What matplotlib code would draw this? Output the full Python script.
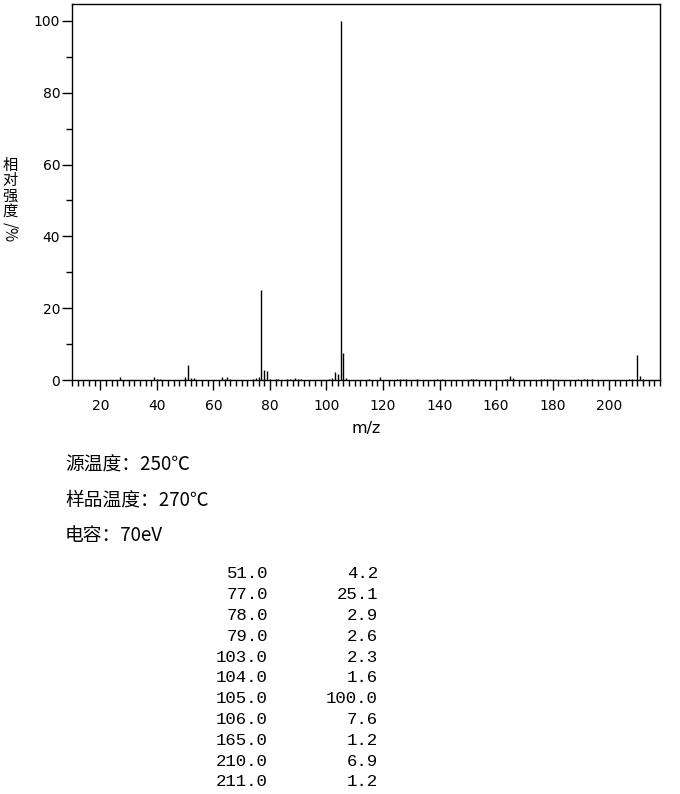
import matplotlib
matplotlib.use("Agg")
import matplotlib.pyplot as plt
from matplotlib.ticker import MultipleLocator

# ---- data ----
mz = [27, 39, 40, 41, 50, 51, 52, 53, 63, 64, 65, 66, 74, 75, 76, 77, 78, 79,
      80, 82, 83, 86, 87, 89, 90, 91, 101, 102, 103, 104, 105, 106, 107, 115,
      119, 125, 126, 127, 128, 132, 139, 141, 151, 152, 153, 163, 164, 165, 166,
      176, 177, 178, 179, 181, 189, 191, 192, 194, 207, 208, 210, 211, 212]
intensity = [0.8, 0.8, 0.3, 0.4, 0.8, 4.2, 0.6, 0.6, 0.8, 0.4, 0.8, 0.3, 0.3, 0.6, 0.8, 25.1, 2.9, 2.6,
             0.3, 0.3, 0.3, 0.3, 0.3, 0.5, 0.3, 0.4, 0.3, 0.5, 2.3, 1.6, 100.0, 7.6, 0.5, 0.3,
             0.8, 0.3, 0.3, 0.3, 0.3, 0.3, 0.3, 0.3, 0.3, 0.3, 0.3, 0.3, 0.4, 1.2, 0.6,
             0.3, 0.3, 0.3, 0.3, 0.3, 0.3, 0.3, 0.3, 0.3, 0.3, 0.3, 6.9, 1.2, 0.3]

table_mz = [51.0, 77.0, 78.0, 79.0, 103.0, 104.0, 105.0, 106.0, 165.0, 210.0, 211.0]
table_int = [4.2, 25.1, 2.9, 2.6, 2.3, 1.6, 100.0, 7.6, 1.2, 6.9, 1.2]

info_lines = ["源温度：250℃", "样品温度：270℃", "电容：70eV"]
ylabel_chars = ["相", "对", "强", "度"]
ylabel_unit = "/%"
xlabel = "m/z"

W, H = 680, 794
fig = plt.figure(figsize=(W / 100, H / 100), dpi=100)

def fx(x):
    return x / W

def fy(y):
    return 1 - y / H

ax = fig.add_axes([fx(72), fy(380), fx(660) - fx(72), fy(4) - fy(380)])
ax.vlines(mz, 0, intensity, colors="black", linewidth=1.0)
ax.set_xlim(10, 218)
ax.set_ylim(0, 104.7)

ax.xaxis.set_major_locator(MultipleLocator(20))
ax.xaxis.set_minor_locator(MultipleLocator(2))
ax.yaxis.set_major_locator(MultipleLocator(20))
ax.yaxis.set_minor_locator(MultipleLocator(10))
for s in ax.spines.values():
    s.set_linewidth(1.0)
    s.set_color("black")
ax.tick_params(axis="x", which="major", direction="out", length=7, width=1, pad=7, labelsize=10)
ax.tick_params(axis="x", which="minor", direction="out", length=4, width=1)
ax.tick_params(axis="y", which="major", direction="out", length=7.5, width=1, pad=1, labelsize=10)
ax.tick_params(axis="y", which="minor", direction="out", length=4.5, width=1)

# y label: stacked characters in one multi-line text, unit rotated below
cjk = ["Noto Sans CJK SC", "DejaVu Sans"]
fig.text(fx(10), fy(157), "\n".join(ylabel_chars), ha="center", va="top",
         family=cjk, fontsize=11, linespacing=0.86)
fig.text(fx(10), fy(222), ylabel_unit, ha="center", va="top", rotation=-90,
         family=cjk, fontsize=11)

# x label
fig.text(fx(366), fy(428), xlabel, ha="center", va="center", fontsize=11.5)

# info lines
for i, t in enumerate(info_lines):
    fig.text(fx(65), fy(465 + 35 * i), t, ha="left", va="center", family=cjk, fontsize=13.5)

# table
for i, (m, v) in enumerate(zip(table_mz, table_int)):
    y = 574 + i * 20.8
    fig.text(fx(268), fy(y), f"{m:.1f}", ha="right", va="center", family="Liberation Mono", fontsize=12.5)
    fig.text(fx(378), fy(y), f"{v:.1f}", ha="right", va="center", family="Liberation Mono", fontsize=12.5)

fig.savefig("out.png", dpi=100)
